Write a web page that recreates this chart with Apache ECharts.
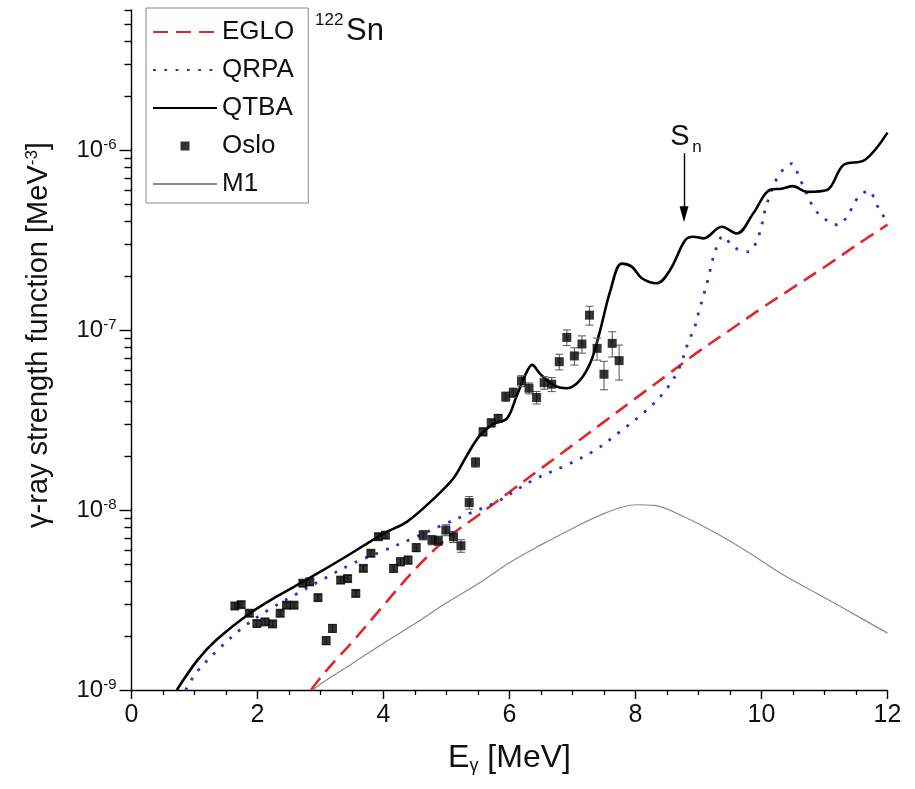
<!DOCTYPE html>
<html>
<head>
<meta charset="utf-8">
<script src="https://cdn.jsdelivr.net/npm/echarts@6/dist/echarts.min.js"></script>
<style>
html,body{margin:0;padding:0;background:#fff;}
#chart{width:915px;height:789px;}
</style>
</head>
<body>
<div id="chart"></div>
<script>
// ---------------- data ----------------
const egloE = [2.85, 3.0, 3.25, 3.5, 4.0, 4.5, 5.0, 5.5, 6.0, 6.5, 7.0, 7.5, 8.0, 8.5, 9.0, 9.5, 10.0, 10.5, 11.0, 11.5, 12.0];
const egloV = [1.0e-9, 1.17e-9, 1.48e-9, 1.84e-9, 2.95e-9, 4.68e-9, 6.92e-9, 9.33e-9, 1.26e-8, 1.70e-8, 2.29e-8, 3.09e-8, 4.17e-8, 5.62e-8, 7.59e-8, 1.0e-7, 1.32e-7, 1.72e-7, 2.24e-7, 2.95e-7, 3.85e-7];

const qrpaE = [0.86, 1.03, 1.38, 1.75, 2.17, 2.61, 3.07, 3.52, 4.0, 4.47, 4.9, 5.37, 5.8, 6.38, 6.91, 7.36, 7.75, 8.15, 8.45, 8.68, 8.84, 8.94, 9.01, 9.08, 9.15, 9.21, 9.28, 9.39, 9.55, 9.79, 9.95, 10.08, 10.27, 10.48, 10.61, 10.82, 10.98, 11.22, 11.40, 11.53, 11.70, 11.84, 11.96, 12.0];
const qrpaV = [1.0e-9, 1.25e-9, 1.68e-9, 2.2e-9, 2.78e-9, 3.4e-9, 4.18e-9, 5.06e-9, 5.94e-9, 6.97e-9, 8.15e-9, 9.6e-9, 1.11e-8, 1.47e-8, 1.78e-8, 2.15e-8, 2.72e-8, 3.52e-8, 4.5e-8, 6.0e-8, 8.6e-8, 1.04e-7, 1.28e-7, 1.56e-7, 1.9e-7, 2.35e-7, 2.84e-7, 3.33e-7, 2.9e-7, 2.72e-7, 3.3e-7, 4.95e-7, 7.2e-7, 8.4e-7, 6.9e-7, 4.84e-7, 4.2e-7, 3.83e-7, 4.54e-7, 5.43e-7, 5.94e-7, 4.89e-7, 4.17e-7, 4.05e-7];

const qtbaE = [0.72, 1.05, 1.35, 1.88, 2.30, 2.78, 3.40, 4.0, 4.37, 4.79, 5.11, 5.32, 5.53, 5.74, 5.96, 6.11, 6.25, 6.36, 6.48, 6.70, 6.91, 7.12, 7.30, 7.44, 7.60, 7.78, 7.94, 8.10, 8.34, 8.55, 8.79, 8.92, 9.08, 9.37, 9.61, 9.87, 10.13, 10.32, 10.50, 10.72, 11.04, 11.30, 11.64, 12.0];
const qtbaV = [1.0e-9, 1.47e-9, 1.9e-9, 2.67e-9, 3.3e-9, 4.1e-9, 5.5e-9, 7.4e-9, 8.6e-9, 1.15e-8, 1.5e-8, 2.0e-8, 2.6e-8, 3.0e-8, 3.23e-8, 4.27e-8, 5.62e-8, 6.4e-8, 5.74e-8, 4.94e-8, 4.75e-8, 5.27e-8, 6.8e-8, 1.0e-7, 1.65e-7, 2.34e-7, 2.25e-7, 1.94e-7, 1.82e-7, 2.16e-7, 3.16e-7, 3.3e-7, 3.23e-7, 3.75e-7, 3.44e-7, 4.45e-7, 6.0e-7, 6.1e-7, 6.3e-7, 5.86e-7, 6.0e-7, 8.26e-7, 8.8e-7, 1.25e-6];

const m1E = [2.88, 3.0, 3.5, 4.0, 4.5, 5.0, 5.5, 6.0, 6.5, 7.0, 7.5, 8.0, 8.3, 8.76, 9.29, 9.82, 10.35, 10.88, 11.4, 12.0];
const m1V = [1.0e-9, 1.08e-9, 1.40e-9, 1.82e-9, 2.34e-9, 3.05e-9, 3.89e-9, 5.1e-9, 6.4e-9, 7.9e-9, 9.55e-9, 1.07e-8, 1.06e-8, 9.2e-9, 7.4e-9, 5.74e-9, 4.35e-9, 3.44e-9, 2.72e-9, 2.07e-9];

const osloE = [1.64, 1.74, 1.87, 1.99, 2.12, 2.24, 2.36, 2.46, 2.58, 2.72, 2.83, 2.96, 3.09, 3.19, 3.32, 3.43, 3.56, 3.68, 3.80, 3.92, 4.03, 4.16, 4.27, 4.39, 4.52, 4.63, 4.77, 4.87, 4.99, 5.11, 5.23, 5.36, 5.46, 5.58, 5.71, 5.82, 5.94, 6.06, 6.19, 6.31, 6.43, 6.55, 6.67, 6.79, 6.91, 7.03, 7.15, 7.27, 7.39, 7.50, 7.63, 7.74];
const osloV = [2.93e-9, 2.98e-9, 2.67e-9, 2.34e-9, 2.39e-9, 2.33e-9, 2.67e-9, 2.96e-9, 2.96e-9, 3.92e-9, 3.99e-9, 3.26e-9, 1.88e-9, 2.2e-9, 4.08e-9, 4.16e-9, 3.44e-9, 4.74e-9, 5.75e-9, 7.11e-9, 7.25e-9, 4.74e-9, 5.16e-9, 5.27e-9, 6.18e-9, 7.25e-9, 6.81e-9, 6.75e-9, 7.74e-9, 7.1e-9, 6.33e-9, 1.1e-8, 1.84e-8, 2.72e-8, 3.05e-8, 3.23e-8, 4.27e-8, 4.49e-8, 5.21e-8, 4.75e-8, 4.22e-8, 5.1e-8, 5.0e-8, 6.67e-8, 9.1e-8, 7.18e-8, 8.36e-8, 1.21e-7, 7.91e-8, 5.68e-8, 8.43e-8, 6.76e-8];
// relative uncertainties of the Oslo points
const osloErr = [0.04, 0.04, 0.04, 0.04, 0.04, 0.04, 0.04, 0.04, 0.04, 0.04, 0.04, 0.04, 0.05, 0.05, 0.04, 0.04, 0.04, 0.04, 0.04, 0.04, 0.04, 0.05, 0.05, 0.05, 0.05, 0.06, 0.06, 0.06, 0.07, 0.07, 0.08, 0.08, 0.06, 0.05, 0.05, 0.05, 0.06, 0.06, 0.07, 0.07, 0.08, 0.08, 0.09, 0.10, 0.10, 0.11, 0.11, 0.12, 0.14, 0.18, 0.16, 0.22];

// axis ticks / labels
const xTickValues = [0, 2, 4, 6, 8, 10, 12];
const yMajorTicks = [1e-9, 1e-8, 1e-7, 1e-6];
const yMinorTicks = [2e-9, 3e-9, 4e-9, 5e-9, 6e-9, 7e-9, 8e-9, 9e-9,
                     2e-8, 3e-8, 4e-8, 5e-8, 6e-8, 7e-8, 8e-8, 9e-8,
                     2e-7, 3e-7, 4e-7, 5e-7, 6e-7, 7e-7, 8e-7, 9e-7,
                     2e-6, 3e-6, 4e-6, 5e-6, 6e-6];

// annotations
const snE = 8.77, snArrowTop = 9.6e-7, snArrowTip = 4.4e-7;

// ---------------- chart ----------------
const FONT = '"Liberation Sans", Arial, Helvetica, sans-serif';
const TXT = '#111';
const pair = (xs, ys) => xs.map((x, i) => [x, ys[i]]);

const chart = echarts.init(document.getElementById('chart'), null, {renderer: 'canvas'});

function lineSeries(name, xs, ys, color, width, type, z) {
  return {
    name, type: 'line', data: pair(xs, ys), symbol: 'none', showSymbol: false,
    smooth: 0.35, clip: true, silent: true, z,
    lineStyle: {color, width, type, cap: 'butt'}, itemStyle: {color}
  };
}

const option = {
  animation: false,
  backgroundColor: '#fff',
  textStyle: {fontFamily: FONT},
  grid: {left: 131.5, right: 27.5, top: 10, bottom: 99, containLabel: false},
  legend: {
    orient: 'vertical', left: 146, top: 8,
    padding: [11, 14, 6, 6], itemGap: 12, itemWidth: 64, itemHeight: 22,
    borderColor: '#888', borderWidth: 1, backgroundColor: '#fff',
    textStyle: {fontSize: 26, color: TXT, fontFamily: FONT},
    selectedMode: false,
    data: [
      {name: 'EGLO', itemStyle: {opacity: 0}},
      {name: 'QRPA', itemStyle: {opacity: 0}},
      {name: 'QTBA', itemStyle: {opacity: 0}},
      {name: 'Oslo', icon: 'path://M0,0M64,22M27.5,6.5L36.5,6.5L36.5,15.5L27.5,15.5Z'},
      {name: 'M1', itemStyle: {opacity: 0}}
    ]
  },
  xAxis: {
    type: 'value', min: 0, max: 12, interval: 2,
    axisLine: {show: true, lineStyle: {color: '#000', width: 1.4}},
    axisTick: {show: true, length: 9, lineStyle: {color: '#000', width: 1.4}},
    minorTick: {show: true, splitNumber: 4, length: 5, lineStyle: {color: '#000', width: 1.3}},
    splitLine: {show: false},
    axisLabel: {fontSize: 25, color: TXT, margin: 13, fontFamily: FONT,
      formatter: v => xTickValues.indexOf(v) >= 0 ? String(v) : ''},
    name: 'E{sub|γ} [MeV]', nameLocation: 'middle', nameGap: 51,
    nameTextStyle: {fontSize: 32, color: TXT, fontFamily: FONT, lineHeight: 34,
      rich: {sub: {fontSize: 18, lineHeight: 6, verticalAlign: 'bottom', color: TXT, fontFamily: FONT}}}
  },
  yAxis: [{
    type: 'log', logBase: 10, min: 1e-9, max: 6e-6, position: 'left',
    axisLine: {show: true, lineStyle: {color: '#000', width: 1.4}},
    axisTick: {show: true, length: 12, customValues: yMajorTicks, lineStyle: {color: '#000', width: 1.4}},
    minorTick: {show: false},
    splitLine: {show: false},
    axisLabel: {
      margin: 15, color: TXT, customValues: yMajorTicks,
      formatter: v => '{b|10}{s|' + Math.round(Math.log10(v)) + '}',
      rich: {
        b: {fontSize: 24, lineHeight: 26, color: TXT, fontFamily: FONT},
        s: {fontSize: 15, lineHeight: 8, verticalAlign: 'top', color: TXT, fontFamily: FONT}
      }
    },
    name: 'γ-ray strength function [MeV{s|-3}]', nameLocation: 'middle', nameGap: 78, nameRotate: 90,
    nameTextStyle: {fontSize: 29, color: TXT, fontFamily: FONT, lineHeight: 30, padding: [0, 0, 0, 30],
      rich: {s: {fontSize: 17, lineHeight: 8, verticalAlign: 'top', color: TXT, fontFamily: FONT}}}
  }, {
    // carries only the logarithmic minor ticks
    type: 'log', logBase: 10, min: 1e-9, max: 6e-6, position: 'left', offset: 0,
    axisLine: {show: false},
    axisTick: {show: true, length: 7, customValues: yMinorTicks, lineStyle: {color: '#000', width: 1.4}},
    axisLabel: {show: false},
    splitLine: {show: false}
  }],
  series: [
    lineSeries('M1', m1E, m1V, '#8a8a8a', 1.2, 'solid', 2),
    lineSeries('EGLO', egloE, egloV, '#e3262b', 2.6, [15, 8], 3),
    lineSeries('QRPA', qrpaE, qrpaV, '#2f2fcc', 2.8, [2.8, 8.5], 4),
    Object.assign(lineSeries('QTBA', qtbaE, qtbaV, '#000', 2.6, 'solid', 5), {
      markLine: {
        silent: true, symbol: ['none', 'triangle'], symbolSize: [9, 16], precision: 10,
        label: {show: false},
        lineStyle: {color: '#000', width: 1.4, type: 'solid'},
        data: [[{coord: [snE, snArrowTop]}, {coord: [snE, snArrowTip]}]]
      }
    }),
    {
      name: 'OsloErr', type: 'custom', silent: true, z: 6, clip: false,
      data: osloE.map((e, i) => [e, osloV[i] * (1 - osloErr[i]), osloV[i] * (1 + osloErr[i])]),
      encode: {x: 0, y: [1, 2]},
      renderItem: (params, api) => {
        const x = api.value(0);
        const lo = api.coord([x, api.value(1)]);
        const hi = api.coord([x, api.value(2)]);
        const c = 4, st = {stroke: '#555', lineWidth: 1};
        return {type: 'group', children: [
          {type: 'line', shape: {x1: lo[0], y1: lo[1], x2: hi[0], y2: hi[1]}, style: st},
          {type: 'line', shape: {x1: lo[0] - c, y1: lo[1], x2: lo[0] + c, y2: lo[1]}, style: st},
          {type: 'line', shape: {x1: hi[0] - c, y1: hi[1], x2: hi[0] + c, y2: hi[1]}, style: st}
        ]};
      }
    },
    {
      name: 'Oslo', type: 'scatter', symbol: 'rect', symbolSize: 9, z: 7, silent: true,
      itemStyle: {color: '#000'}, data: pair(osloE, osloV)
    }
  ]
};
chart.setOption(option);

// text annotations, positioned through the chart's own scales
const pArrow = chart.convertToPixel({xAxisIndex: 0, yAxisIndex: 0}, [snE, snArrowTop]);
chart.setOption({graphic: [
  {type: 'text', left: 315, top: 12, silent: true,
    style: {text: '122', fontSize: 17, fill: TXT, fontFamily: FONT}},
  {type: 'text', left: 346, top: 16, silent: true,
    style: {text: 'Sn', fontSize: 31, fill: TXT, fontFamily: FONT}},
  {type: 'text', x: pArrow[0] - 4, y: pArrow[1] - 2, silent: true,
    style: {text: 'S', fontSize: 29, fill: TXT, fontFamily: FONT, align: 'center', verticalAlign: 'bottom'}},
  {type: 'text', x: pArrow[0] + 13, y: pArrow[1] + 3, silent: true,
    style: {text: 'n', fontSize: 17, fill: TXT, fontFamily: FONT, align: 'center', verticalAlign: 'bottom'}}
]});
</script>
</body>
</html>
